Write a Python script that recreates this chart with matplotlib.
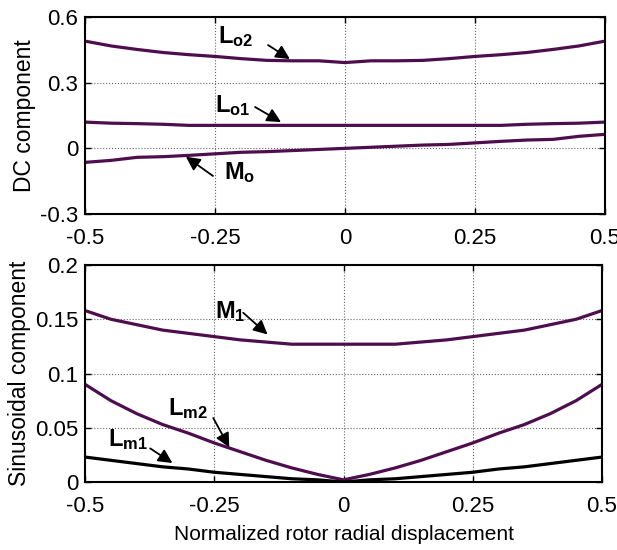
import numpy as np
import matplotlib
matplotlib.use("Agg")
import matplotlib.pyplot as plt

plt.rcParams['font.family'] = ['Liberation Sans', 'DejaVu Sans']
plt.rcParams['mathtext.fontset'] = 'custom'
plt.rcParams['mathtext.bf'] = 'Liberation Sans:bold'
plt.rcParams['mathtext.rm'] = 'Liberation Sans'

# normalized rotor radial displacement
x = [-0.5, -0.45, -0.4, -0.35, -0.3, -0.25, -0.2, -0.15, -0.1, -0.05, 0.0,
     0.05, 0.1, 0.15, 0.2, 0.25, 0.3, 0.35, 0.4, 0.45, 0.5]

# DC components
Lo2 = [0.49, 0.468, 0.452, 0.438, 0.428, 0.42, 0.41, 0.402, 0.40, 0.40, 0.392,
       0.40, 0.40, 0.402, 0.41, 0.42, 0.428, 0.438, 0.452, 0.468, 0.49]
Lo1 = [0.12, 0.115, 0.113, 0.11, 0.105, 0.105, 0.105, 0.105, 0.105, 0.105, 0.105,
       0.105, 0.105, 0.105, 0.105, 0.105, 0.105, 0.11, 0.113, 0.115, 0.12]
Mo = [-0.064, -0.055, -0.041, -0.038, -0.032, -0.025, -0.018, -0.015, -0.01, -0.005, 0.0,
      0.005, 0.01, 0.015, 0.018, 0.025, 0.032, 0.038, 0.041, 0.055, 0.064]

# sinusoidal components
M1 = [0.158, 0.15, 0.145, 0.14, 0.137, 0.134, 0.131, 0.129, 0.127, 0.127, 0.127,
      0.127, 0.127, 0.129, 0.131, 0.134, 0.137, 0.14, 0.145, 0.15, 0.158]
Lm2 = [0.09, 0.075, 0.063, 0.053, 0.045, 0.036, 0.028, 0.02, 0.013, 0.007, 0.002,
       0.007, 0.013, 0.02, 0.028, 0.036, 0.045, 0.053, 0.063, 0.075, 0.09]
Lm1 = [0.023, 0.02, 0.017, 0.014, 0.012, 0.009, 0.007, 0.005, 0.003, 0.002, 0.0,
       0.002, 0.003, 0.005, 0.007, 0.009, 0.012, 0.014, 0.017, 0.02, 0.023]

xticks = [-0.5, -0.25, 0, 0.25, 0.5]
xticklabels = ['-0.5', '-0.25', '0', '0.25', '0.5']
purple = '#4e0e4e'

fig = plt.figure(figsize=(6.17, 5.5), dpi=100)
ax1 = fig.add_axes([0.1378, 0.6109, 0.8427, 0.3581])
ax2 = fig.add_axes([0.1378, 0.1236, 0.8379, 0.3946])


def style(ax):
    ax.grid(True, linestyle=':', color='#666666', linewidth=0.8)
    ax.tick_params(direction='in', top=True, right=True, length=4,
                   labelsize=16, width=1)
    ax.tick_params(axis='y', pad=5)
    ax.tick_params(axis='x', pad=10)
    for s in ax.spines.values():
        s.set_linewidth(1.5)
    ax.set_xlim(-0.5, 0.5)
    ax.set_xticks(xticks)
    ax.set_xticklabels(xticklabels)


def label(ax, txt, pos, tail, tip):
    ax.text(pos[0], pos[1], txt, fontsize=17, va='center', ha='left')
    ax.annotate('', xy=tip, xytext=tail,
                arrowprops=dict(arrowstyle='-|>', color='black', lw=1.3,
                                mutation_scale=21, shrinkA=0, shrinkB=0))


ax1.plot(x, Lo2, color=purple, lw=2.3)
ax1.plot(x, Lo1, color=purple, lw=2.3)
ax1.plot(x, Mo, color=purple, lw=2.3)
style(ax1)
ax1.set_ylim(-0.3, 0.6)
ax1.set_yticks([-0.3, 0, 0.3, 0.6])
ax1.set_yticklabels(['-0.3', '0', '0.3', '0.6'])
ax1.set_ylabel('DC component', fontsize=16.5, labelpad=3)

label(ax1, r'$\mathbf{L_{o2}}$', (-0.245, 0.51), (-0.148, 0.472), (-0.106, 0.408))
label(ax1, r'$\mathbf{L_{o1}}$', (-0.25, 0.195), (-0.173, 0.189), (-0.123, 0.120))
label(ax1, r'$\mathbf{M_{o}}$', (-0.232, -0.11), (-0.254, -0.126), (-0.306, -0.038))

ax2.plot(x, M1, color=purple, lw=2.3)
ax2.plot(x, Lm2, color=purple, lw=2.3)
ax2.plot(x, Lm1, color='black', lw=2.3)
style(ax2)
ax2.set_ylim(0, 0.2)
ax2.set_yticks([0, 0.05, 0.1, 0.15, 0.2])
ax2.set_yticklabels(['0', '0.05', '0.1', '0.15', '0.2'])
ax2.set_ylabel('Sinusoidal component', fontsize=16.5, labelpad=3)
ax2.set_xlabel('Normalized rotor radial displacement', fontsize=15, labelpad=6)

label(ax2, r'$\mathbf{M_{1}}$', (-0.248, 0.157), (-0.194, 0.156), (-0.147, 0.136))
label(ax2, r'$\mathbf{L_{m2}}$', (-0.34, 0.068), (-0.252, 0.059), (-0.221, 0.032))
label(ax2, r'$\mathbf{L_{m1}}$', (-0.455, 0.039), (-0.374, 0.031), (-0.331, 0.0175))

fig.savefig('out.png', dpi=100)
